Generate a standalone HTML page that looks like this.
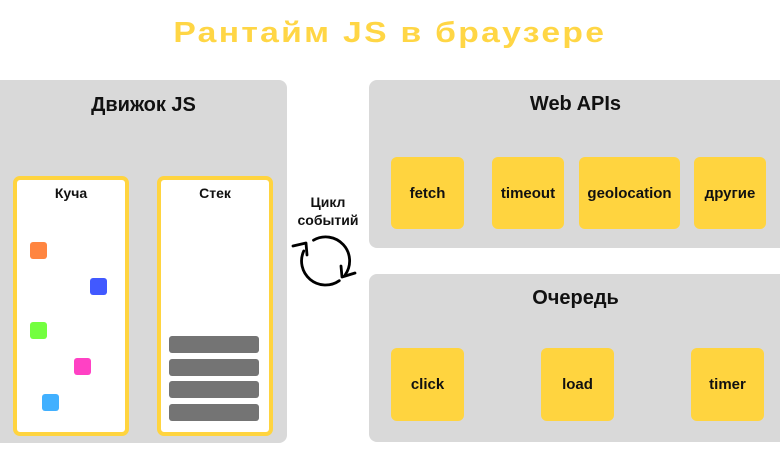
<!DOCTYPE html>
<html>
<head>
<meta charset="utf-8">
<style>
  html, body { margin: 0; padding: 0; }
  body { width: 780px; height: 470px; position: relative; overflow: hidden; background: #fff;
         font-family: "Liberation Sans", "Noto Sans CJK SC", sans-serif; }
  .abs { position: absolute; }
  .title { left: 0; width: 780px; top: 13px; text-align: center; font-size: 29px; font-weight: bold;
           color: #FFD645; letter-spacing: 2px; line-height: 40px; white-space: nowrap;
           transform: scaleX(1.16); transform-origin: 391px 0; }
  .panel { background: #D9D9D9; border-radius: 8px; }
  .ptitle { font-size: 20px; font-weight: bold; color: #111; text-align: center; line-height: 24px; }
  .wbox { background: #fff; border: 4px solid #FFD43F; border-radius: 7px; box-sizing: border-box; }
  .blabel { font-size: 14px; font-weight: bold; color: #111; text-align: center; line-height: 16px; }
  .ybox { background: #FFD43F; border-radius: 6px; font-size: 15px; font-weight: bold; color: #111;
          display: flex; align-items: center; justify-content: center; }
  .sq { width: 17px; height: 17px; border-radius: 3px; }
  .bar { background: #747474; border-radius: 3px; left: 169px; width: 90px; height: 17px; }
</style>
</head>
<body>
  <div class="abs title">Рантайм JS в браузере</div>

  <!-- Left panel -->
  <div class="abs panel" style="left:-12px; top:80px; width:299px; height:363px;"></div>
  <div class="abs ptitle" style="left:0; width:287px; top:93px;">Движок JS</div>

  <div class="abs wbox" style="left:13px; top:176px; width:116px; height:260px;"></div>
  <div class="abs blabel" style="left:13px; width:116px; top:185px;">Куча</div>
  <div class="abs wbox" style="left:157px; top:176px; width:116px; height:260px;"></div>
  <div class="abs blabel" style="left:157px; width:116px; top:185px;">Стек</div>

  <div class="abs sq" style="left:30px; top:242px; background:#FF8540;"></div>
  <div class="abs sq" style="left:90px; top:278px; background:#4159FF;"></div>
  <div class="abs sq" style="left:30px; top:322px; background:#73FF3F;"></div>
  <div class="abs sq" style="left:74px; top:358px; background:#FF41C4;"></div>
  <div class="abs sq" style="left:42px; top:394px; background:#41B0FF;"></div>

  <div class="abs bar" style="top:336px;"></div>
  <div class="abs bar" style="top:359px;"></div>
  <div class="abs bar" style="top:381px;"></div>
  <div class="abs bar" style="top:404px;"></div>

  <!-- Event loop -->
  <div class="abs blabel" style="left:287px; width:82px; top:193px; line-height:18px;">Цикл<br>событий</div>
  <svg class="abs" style="left:0; top:0;" width="780" height="470">
    <g fill="none" stroke="#000" stroke-width="2.8" stroke-linecap="round" stroke-linejoin="round">
      <path d="M 313.5 240.2 A 24 24 0 0 1 345.2 274.8" />
      <path d="M 339.3 280.7 A 24 24 0 0 1 303.8 250.9" />
      <polyline points="293,246 306,243 307,255" />
      <polyline points="341,266 342,277 355,273" />
    </g>
  </svg>

  <!-- Web APIs panel -->
  <div class="abs panel" style="left:369px; top:80px; width:420px; height:168px;"></div>
  <div class="abs ptitle" style="left:369px; width:413px; top:92px;">Web APIs</div>
  <div class="abs ybox" style="left:391px; top:157px; width:73px; height:72px;">fetch</div>
  <div class="abs ybox" style="left:492px; top:157px; width:72px; height:72px;">timeout</div>
  <div class="abs ybox" style="left:579px; top:157px; width:101px; height:72px;">geolocation</div>
  <div class="abs ybox" style="left:694px; top:157px; width:72px; height:72px;">другие</div>

  <!-- Queue panel -->
  <div class="abs panel" style="left:369px; top:274px; width:420px; height:168px;"></div>
  <div class="abs ptitle" style="left:369px; width:413px; top:286px;">Очередь</div>
  <div class="abs ybox" style="left:391px; top:348px; width:73px; height:73px;">click</div>
  <div class="abs ybox" style="left:541px; top:348px; width:73px; height:73px;">load</div>
  <div class="abs ybox" style="left:691px; top:348px; width:73px; height:73px;">timer</div>
</body>
</html>
